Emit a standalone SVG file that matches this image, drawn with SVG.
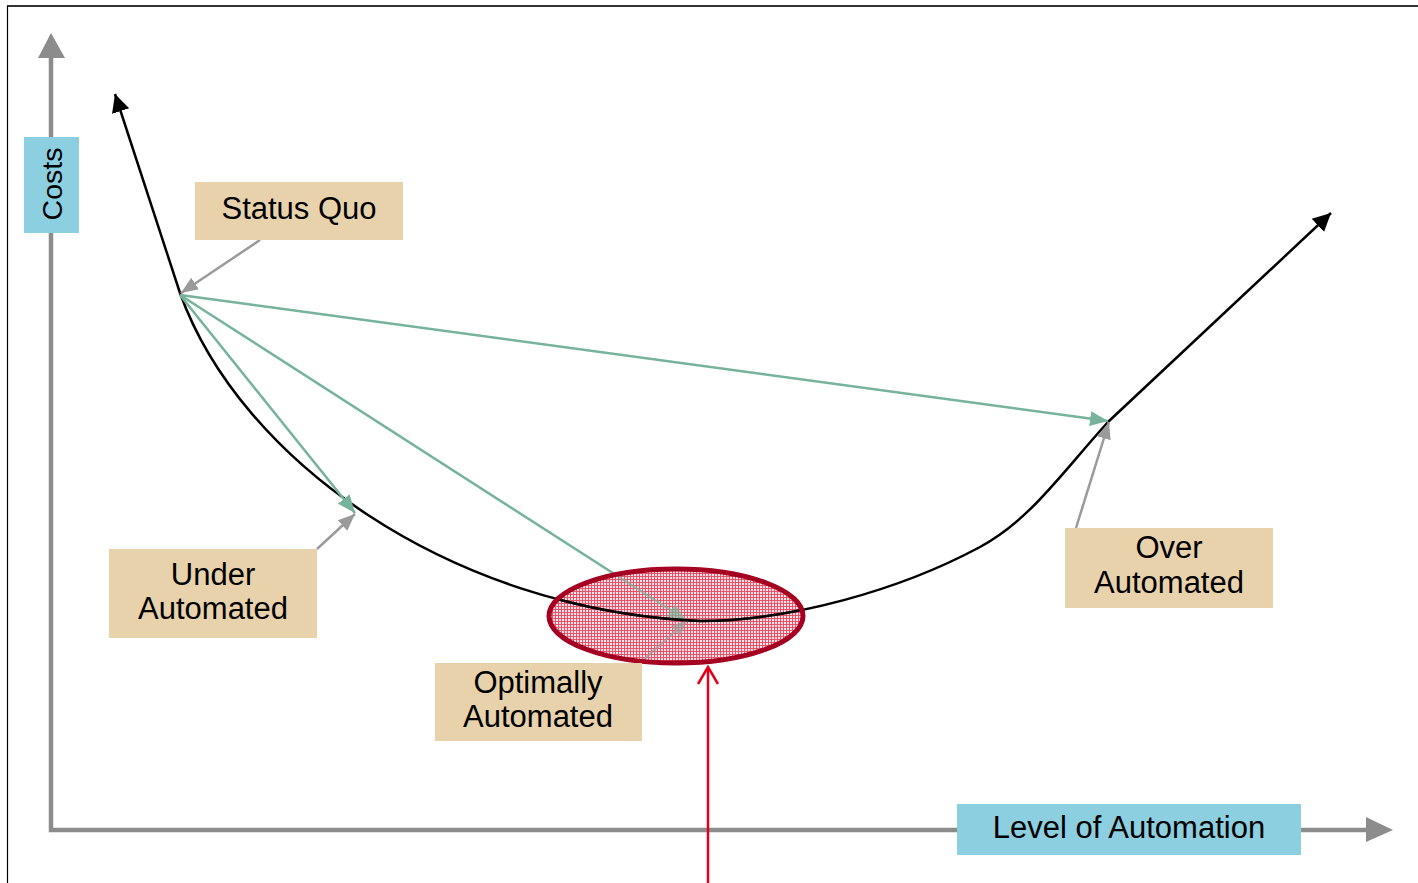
<svg xmlns="http://www.w3.org/2000/svg" width="1418" height="883" viewBox="0 0 1418 883">
<style>
  .lbl { font-family: "Liberation Sans", Arial, sans-serif; font-size: 31px; fill: #000; text-anchor: middle; }
  .beige { fill: #e8d2ac; }
  .blue { fill: #8bcfe0; }
  .axis { stroke: #8c8c8c; stroke-width: 4.5; fill: none; }
  .curve { stroke: #000; stroke-width: 2.5; fill: none; }
  .green { stroke: #76b29c; stroke-width: 2.5; fill: none; }
  .gray { stroke: #9a9a9a; stroke-width: 2.5; fill: none; }
</style>
<defs>
  <marker id="ahBlack" markerUnits="userSpaceOnUse" markerWidth="20" markerHeight="20" refX="18" refY="9" orient="auto" viewBox="0 0 20 18">
    <path d="M0,0 L18,9 L0,18 Z" fill="#000"/>
  </marker>
  <marker id="ahGreen" markerUnits="userSpaceOnUse" markerWidth="20" markerHeight="16" refX="18" refY="7.5" orient="auto" viewBox="0 0 20 15">
    <path d="M0,0 L18,7.5 L0,15 Z" fill="#76b29c"/>
  </marker>
  <marker id="ahGray" markerUnits="userSpaceOnUse" markerWidth="20" markerHeight="16" refX="17" refY="7" orient="auto" viewBox="0 0 20 14">
    <path d="M0,0 L17,7 L0,14 Z" fill="#9a9a9a"/>
  </marker>
  <pattern id="hatch" width="3" height="3" patternUnits="userSpaceOnUse">
    <rect width="3" height="3" fill="#fde6ea"/>
    <path d="M0,0.5 H3 M0.5,0 V3" stroke="#ea5068" stroke-width="1"/>
  </pattern>
  <clipPath id="zoneClip">
    <ellipse cx="676" cy="616" rx="127" ry="47"/>
  </clipPath>
</defs>

<!-- frame -->
<g id="frame">
  <line x1="7" y1="6" x2="1418" y2="6" stroke="#333" stroke-width="2"/>
  <line x1="7.5" y1="6" x2="7.5" y2="883" stroke="#000" stroke-width="1.2"/>
</g>

<!-- axes -->
<g id="axes">
  <polyline class="axis" points="51,58 51,830 1368,830"/>
  <polygon points="38,58 51,33 65,58" fill="#8c8c8c"/>
  <polygon points="1366,817 1393,830 1366,842" fill="#8c8c8c"/>
</g>

<g id="costs-label">
  <rect class="blue" x="24" y="137" width="55" height="96"/>
  <text class="lbl" style="font-size:28.5px" transform="translate(62,184) rotate(-90)" x="0" y="0">Costs</text>
</g>

<g id="level-label">
  <rect class="blue" x="957" y="804" width="344" height="51"/>
  <text class="lbl" x="1129" y="838">Level of Automation</text>
</g>

<!-- optimum zone fill -->
<g id="optimum-fill">
  <ellipse cx="676" cy="616" rx="127" ry="47" fill="url(#hatch)"/>
</g>

<!-- cost curve -->
<g id="curve">
  <path class="curve" d="M180,293 L115,94" marker-end="url(#ahBlack)"/>
  <path class="curve" d="M180,293 C240,460 450,610 700,621 C790,621 900,590 980,547 C1030,520 1060,475 1108,422 L1331,213" marker-end="url(#ahBlack)"/>
</g>

<!-- connectors -->
<g id="connectors">
  <path class="green" d="M180,295 L355,513" marker-end="url(#ahGreen)"/>
  <path class="green" d="M180,295 L686,620" marker-end="url(#ahGreen)"/>
  <path class="green" d="M180,295 L1108,421" marker-end="url(#ahGreen)"/>
  <path class="gray" d="M260,240 L181,293" marker-end="url(#ahGray)"/>
  <path class="gray" d="M317,549 L355,514" marker-end="url(#ahGray)"/>
  <path class="gray" d="M642,661 L688,620" marker-end="url(#ahGray)"/>
  <path class="gray" d="M1076,528 L1109,422" marker-end="url(#ahGray)"/>
</g>

<!-- translucent veil inside the zone, curve kept crisp -->
<g id="optimum-veil">
  <ellipse cx="676" cy="616" rx="127" ry="47" fill="url(#hatch)" fill-opacity="0.3"/>
  <path class="curve" clip-path="url(#zoneClip)" d="M180,293 C240,460 450,610 700,621 C790,621 900,590 980,547"/>
</g>

<g id="optimum-outline">
  <ellipse cx="676" cy="616" rx="127" ry="47" fill="none" stroke="#a50021" stroke-width="5"/>
</g>

<g id="status-quo">
  <rect class="beige" x="195" y="182" width="208" height="58"/>
  <text class="lbl" x="299" y="219">Status Quo</text>
</g>

<g id="under-automated">
  <rect class="beige" x="109" y="549" width="208" height="89"/>
  <text class="lbl" x="213" y="585">Under</text>
  <text class="lbl" x="213" y="619">Automated</text>
</g>

<g id="optimally-automated">
  <rect class="beige" x="435" y="663" width="207" height="78"/>
  <text class="lbl" x="538" y="693">Optimally</text>
  <text class="lbl" x="538" y="727">Automated</text>
</g>

<g id="over-automated">
  <rect class="beige" x="1065" y="528" width="208" height="80"/>
  <text class="lbl" x="1169" y="558">Over</text>
  <text class="lbl" x="1169" y="593">Automated</text>
</g>

<g id="red-pointer">
  <line x1="708" y1="883" x2="708" y2="668" stroke="#e4001b" stroke-width="2.5"/>
  <polyline points="698,684 708,667 718,684" fill="none" stroke="#e4001b" stroke-width="2.5"/>
</g>
</svg>
